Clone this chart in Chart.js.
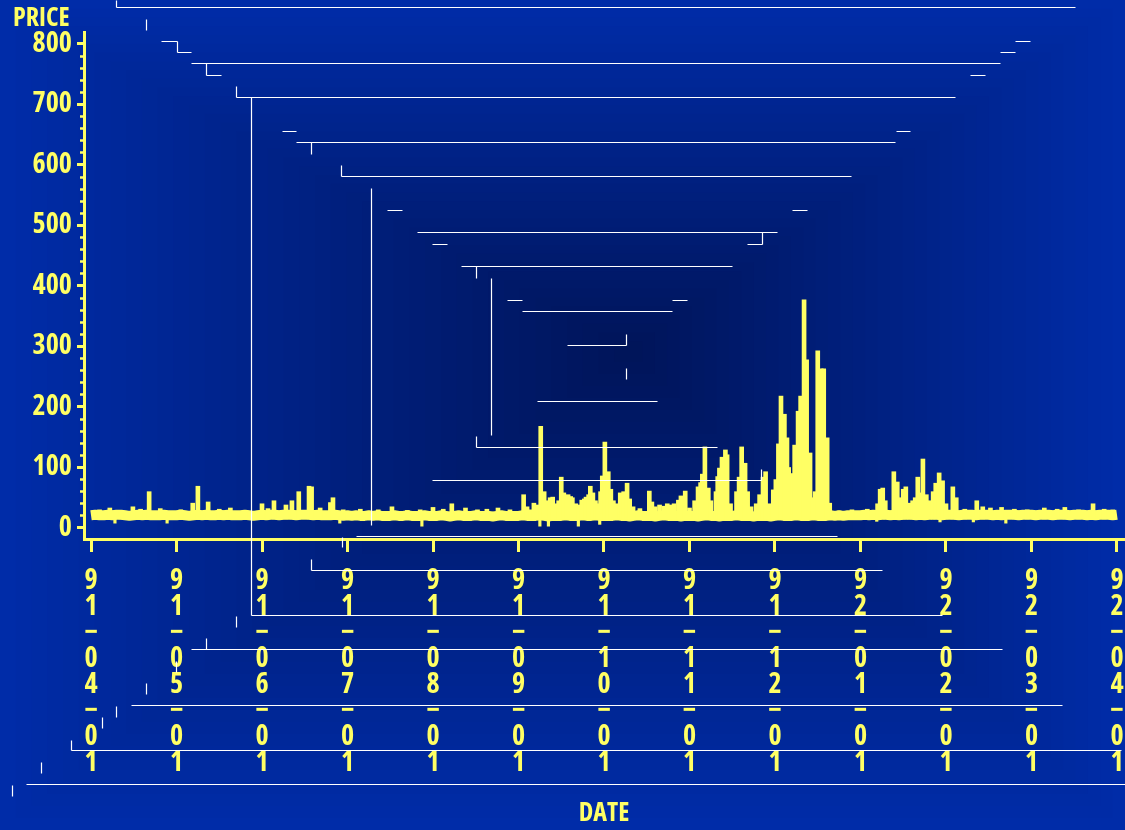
<!DOCTYPE html>
<html>
<head>
<meta charset="utf-8">
<script src="https://cdn.jsdelivr.net/npm/chart.js@4.4.1/dist/chart.umd.min.js"></script>
<style>
  html, body { margin: 0; padding: 0; overflow: hidden; background: #002ca8; }
  canvas { display: block; }
</style>
</head>
<body>
<canvas id="chart" width="1125" height="830"></canvas>
<script>
// Month-start ticks along the date axis (one per month, 91-04-01 .. 92-04-01)
const dateLabels = ['91-04-01', '91-05-01', '91-06-01', '91-07-01', '91-08-01', '91-09-01',
  '91-10-01', '91-11-01', '91-12-01', '92-01-01', '92-02-01', '92-03-01', '92-04-01'];

// Labelled price ticks; minor ticks every 20
const priceLabels = [0, 100, 200, 300, 400, 500, 600, 700, 800];
const minorStep = 20;

// Everyday trading band: level sampled every 0.05 month from 91-04-01
const bandStep = 0.05;
const bandLevel = [
  21, 22, 21, 21, 22, 21, 22, 22, 21, 20, 21, 22, 21, 22, 21, 21, 21, 22, 21, 21,
  21, 22, 21, 20, 21, 22, 21, 22, 21, 21, 22, 21, 22, 21, 21, 21, 22, 21, 20, 21,
  22, 21, 22, 22, 21, 22, 22, 22, 21, 22, 22, 22, 21, 22, 21, 21, 21, 22, 21, 20,
  21, 20, 21, 20, 20, 21, 20, 21, 20, 20, 20, 21, 20, 20, 21, 20, 20, 20, 21, 20,
  20, 20, 21, 20, 19, 20, 21, 20, 20, 20, 21, 20, 20, 20, 19, 20, 21, 20, 20, 20,
  20, 21, 20, 20, 20, 21, 20, 19, 20, 20, 20, 21, 20, 20, 20, 21, 20, 20, 21, 20,
  20, 20, 20, 21, 20, 20, 19, 20, 21, 20, 20, 20, 19, 20, 21, 20, 20, 20, 19, 20,
  20, 20, 19, 20, 21, 20, 20, 19, 20, 20, 20, 21, 20, 20, 20, 19, 20, 20, 20, 19,
  20, 21, 20, 20, 20, 21, 20, 20, 20, 21, 20, 20, 20, 21, 20, 21, 20, 21, 21, 21,
  21, 22, 21, 22, 21, 22, 22, 21, 22, 21, 22, 22, 22, 21, 22, 21, 22, 22, 22, 21,
  22, 22, 22, 21, 22, 22, 22, 21, 22, 22, 22, 21, 22, 21, 22, 22, 22, 21, 22, 22,
  22, 21, 22, 22, 22, 21, 22, 22, 22, 21, 22, 22, 22, 21, 22, 21, 22, 22, 22, 21,
  22
];

// Daily highs that break out of the band (position in months from 91-04-01)
const spikeAt = [
  0.10, 0.22, 0.35, 0.49, 0.58, 0.68, 0.81, 1.05, 1.19, 1.25, 1.37, 1.50, 1.63, 1.80,
  2.00, 2.07, 2.14, 2.28, 2.35, 2.43, 2.55, 2.58, 2.68, 2.80, 2.83, 2.95,
  3.15, 3.36, 3.52, 3.70, 3.85, 4.00, 4.12, 4.22, 4.38, 4.52, 4.63, 4.76, 4.90,
  5.06, 5.10, 5.14, 5.18, 5.22, 5.26, 5.30, 5.33, 5.37, 5.40, 5.44, 5.47, 5.50, 5.53,
  5.56, 5.58, 5.61, 5.63, 5.67, 5.71, 5.74, 5.77, 5.79, 5.82, 5.84, 5.87, 5.90, 5.93,
  5.96, 5.98, 6.01, 6.05, 6.08, 6.11, 6.15, 6.19, 6.21, 6.23, 6.27, 6.30, 6.34, 6.42,
  6.53, 6.56, 6.60, 6.65, 6.70, 6.74, 6.78, 6.82, 6.87, 6.90, 6.95, 7.00,
  7.06, 7.10, 7.13, 7.15, 7.18, 7.22, 7.25, 7.31, 7.33, 7.35, 7.38, 7.42, 7.44, 7.48,
  7.55, 7.58, 7.61, 7.65, 7.68, 7.72, 7.78, 7.82, 7.86, 7.89, 7.93, 7.98,
  8.01, 8.04, 8.07, 8.11, 8.14, 8.16, 8.18, 8.21, 8.23, 8.27, 8.30, 8.34, 8.37, 8.41,
  8.44, 8.47, 8.50, 8.54, 8.57, 8.61, 8.64, 8.75, 8.90, 9.08,
  9.20, 9.23, 9.26, 9.29, 9.39, 9.43, 9.46, 9.50, 9.53, 9.57, 9.61, 9.64, 9.67, 9.71,
  9.73, 9.77, 9.81, 9.85, 9.88, 9.92, 9.96, 10.00, 10.08, 10.12, 10.22, 10.36, 10.43,
  10.52, 10.65, 10.80, 10.95, 11.15, 11.30, 11.39, 11.55, 11.72, 11.85, 11.95
];
const spikeHigh = [
  30, 33, 29, 35, 31, 60, 32, 30, 41, 69, 43, 31, 33, 29,
  40, 32, 45, 38, 45, 60, 69, 68, 33, 42, 50, 30,
  31, 30, 35, 29, 30, 34, 31, 40, 33, 30, 31, 33, 30,
  55, 35, 30, 41, 38, 168, 60, 45, 50, 51, 40, 45, 84, 58,
  52, 55, 52, 50, 40, 38, 46, 48, 51, 55, 69, 58, 45, 40,
  60, 86, 142, 93, 64, 45, 40, 58, 55, 60, 74, 48, 35, 32,
  61, 43, 35, 38, 36, 40, 38, 40, 46, 53, 61, 33,
  45, 68, 75, 89, 134, 66, 45, 60, 85, 99, 117, 129, 121, 40,
  60, 84, 134, 107, 60, 35, 40, 55, 84, 93, 40, 63,
  80, 139, 218, 188, 149, 100, 60, 90, 137, 193, 218, 377, 278, 124,
  50, 60, 293, 263, 263, 149, 41, 28, 30, 31,
  40, 64, 66, 45, 93, 76, 50, 64, 68, 41, 45, 50, 84, 58,
  114, 55, 45, 60, 74, 91, 78, 40, 68, 50, 31, 45, 35,
  33, 34, 31, 30, 33, 31, 34, 30, 40, 31, 30
];
const bandFloor = 15;

// Daily lows that dip under the band
const dipAt = [0.28, 0.89, 2.91, 3.87, 5.25, 5.35, 5.70, 5.95, 9.19, 9.93, 10.32, 10.70];
const dipLow = [8, 8, 8, 3, 3, 3, 3, 6, 11, 10, 10, 8];
const bandCeiling = 18;

const yellow = '#ffff64';
const fontFamily = '"Open Sans", "Liberation Sans", sans-serif';
const fontWeight = 'condensed bold';

// Perspective frame drawn over the whole picture: [x1, y1, x2, y2]
const frameSegments = [
  [116, 0, 116, 7], [116, 7, 1075, 7],
  [146, 19, 146, 30],
  [161, 41, 177, 41], [177, 41, 177, 52], [177, 52, 191, 52],
  [1015, 41, 1030, 41], [1000, 52, 1015, 52],
  [191, 63, 1000, 63],
  [206, 63, 206, 75], [206, 75, 221, 75], [970, 75, 985, 75],
  [236, 86, 236, 97], [236, 97, 955, 97],
  [251, 97, 251, 615], [251, 615, 942, 615],
  [282, 131, 296, 131], [896, 131, 910, 131],
  [296, 142, 895, 142], [311, 142, 311, 154],
  [341, 165, 341, 176], [341, 176, 851, 176],
  [371, 188, 371, 525],
  [387, 210, 402, 210], [792, 210, 807, 210],
  [417, 232, 777, 232], [762, 232, 762, 244], [747, 244, 762, 244], [432, 244, 447, 244],
  [461, 266, 732, 266], [476, 266, 476, 278],
  [491, 278, 491, 435],
  [507, 300, 522, 300], [672, 300, 687, 300],
  [522, 311, 672, 311],
  [626, 334, 626, 345], [567, 345, 626, 345],
  [626, 368, 626, 379],
  [537, 401, 657, 401],
  [476, 436, 476, 447], [476, 447, 717, 447],
  [761, 469, 761, 480], [432, 480, 761, 480],
  [356, 536, 837, 536], [342, 537, 342, 547],
  [311, 559, 311, 570], [311, 570, 882, 570],
  [236, 616, 236, 627],
  [206, 638, 206, 649], [191, 649, 1002, 649],
  [176, 661, 176, 672],
  [146, 683, 146, 694],
  [131, 705, 1062, 705], [116, 706, 116, 717], [102, 717, 102, 728],
  [71, 740, 71, 750], [71, 750, 1121, 750],
  [41, 762, 41, 773],
  [26, 784, 1125, 784], [12, 785, 12, 796]
];

// Stepped box gradient: bright blue at the edges, deep navy toward the centre
const backdrop = {
  id: 'backdrop',
  beforeDraw(chart) {
    const { ctx, width: W, height: H } = chart;
    const cx = 630, cy = 350, steps = 40;
    const edge = [0, 44, 168], core = [0, 20, 88];
    ctx.save();
    for (let k = 0; k < steps; k++) {
      const t = 1 - k / steps;
      const c = edge.map((e, j) => Math.round(core[j] + (e - core[j]) * t));
      ctx.fillStyle = `rgb(${c[0]}, ${c[1]}, ${c[2]})`;
      const l = cx - t * cx, r = cx + t * (W - cx);
      const tp = cy - t * cy, b = cy + t * (H - cy);
      ctx.fillRect(l, tp, r - l, b - tp);
    }
    ctx.restore();
  }
};

const frame = {
  id: 'frame',
  afterDraw(chart) {
    const ctx = chart.ctx;
    ctx.save();
    ctx.strokeStyle = '#ffffff';
    ctx.lineWidth = 1.2;
    ctx.beginPath();
    for (const [x1, y1, x2, y2] of frameSegments) {
      ctx.moveTo(x1 + 0.5, y1 + 0.5);
      ctx.lineTo(x2 + 0.5, y2 + 0.5);
    }
    ctx.stroke();
    ctx.restore();
  }
};

const bandPoints = bandLevel.map((v, i) => ({ x: i * bandStep, y: v }));
const spikeBars = spikeAt.map((x, i) => ({ x, y: [bandFloor, spikeHigh[i]] }));
const dipBars = dipAt.map((x, i) => ({ x, y: [dipLow[i], bandCeiling] }));

const isLabelled = v => priceLabels.includes(v);

new Chart(document.getElementById('chart'), {
  type: 'bar',
  data: {
    datasets: [
      { type: 'line', data: bandPoints, borderColor: yellow, borderWidth: 10, pointRadius: 0,
        tension: 0, borderJoinStyle: 'bevel', order: 2 },
      { type: 'bar', data: spikeBars, backgroundColor: yellow, borderWidth: 0,
        barThickness: 4, grouped: false, order: 1 },
      { type: 'bar', data: dipBars, backgroundColor: yellow, borderWidth: 0,
        barThickness: 2.5, grouped: false, order: 1 }
    ]
  },
  options: {
    responsive: false,
    animation: false,
    devicePixelRatio: 1,
    layout: { padding: { left: 13, right: 1, top: 0, bottom: 0 } },
    plugins: {
      legend: { display: false },
      tooltip: { enabled: false },
      title: {
        display: true, text: 'PRICE', align: 'start', color: yellow,
        font: { family: fontFamily, size: 26, weight: fontWeight, lineHeight: '26px' },
        padding: { top: 6, bottom: 0 }
      }
    },
    scales: {
      x: {
        type: 'linear',
        min: -0.082, max: 12.082,
        offset: false,
        afterBuildTicks: s => { s.ticks = dateLabels.map((_, i) => ({ value: i })); },
        afterFit: s => { s.height = 291; s.paddingLeft = 0; s.paddingRight = 0; },
        ticks: {
          autoSkip: false, maxRotation: 0, minRotation: 0, padding: 16,
          color: yellow,
          font: { family: fontFamily, size: 28, weight: fontWeight, lineHeight: '26px' },
          // stack each date vertically, one character per line
          callback: v => {
            const s = dateLabels[Math.round(v)];
            return s ? s.replace(/-/g, '\u2212').split('') : '';
          }
        },
        grid: { drawOnChartArea: false, offset: false, tickLength: 13, tickWidth: 3, tickColor: yellow },
        border: { color: yellow, width: 3 },
        title: {
          display: true, text: 'DATE', color: yellow,
          font: { family: fontFamily, size: 26, weight: fontWeight, lineHeight: '26px' },
          padding: { top: 0, bottom: 3 }
        }
      },
      y: {
        type: 'linear',
        min: -18.2, max: 819.8,
        afterBuildTicks: s => {
          const t = [];
          for (let v = priceLabels[0]; v <= priceLabels[priceLabels.length - 1]; v += minorStep) t.push({ value: v });
          s.ticks = t;
        },
        afterFit: s => { s.width = 71; s.paddingTop = 0; s.paddingBottom = 0; },
        ticks: {
          autoSkip: false, padding: 5, color: yellow,
          font: { family: fontFamily, size: 28, weight: fontWeight },
          callback: v => (isLabelled(v) ? String(v) : '')
        },
        grid: {
          drawOnChartArea: false, tickLength: 7, tickColor: yellow,
          tickWidth: c => (c.tick && isLabelled(c.tick.value) ? 3 : 2.5),
          tickBorderDash: c => (c.tick && isLabelled(c.tick.value) ? [] : [0, 3, 10, 0])
        },
        border: { color: yellow, width: 3 }
      }
    }
  },
  plugins: [backdrop, frame]
});
</script>
</body>
</html>
